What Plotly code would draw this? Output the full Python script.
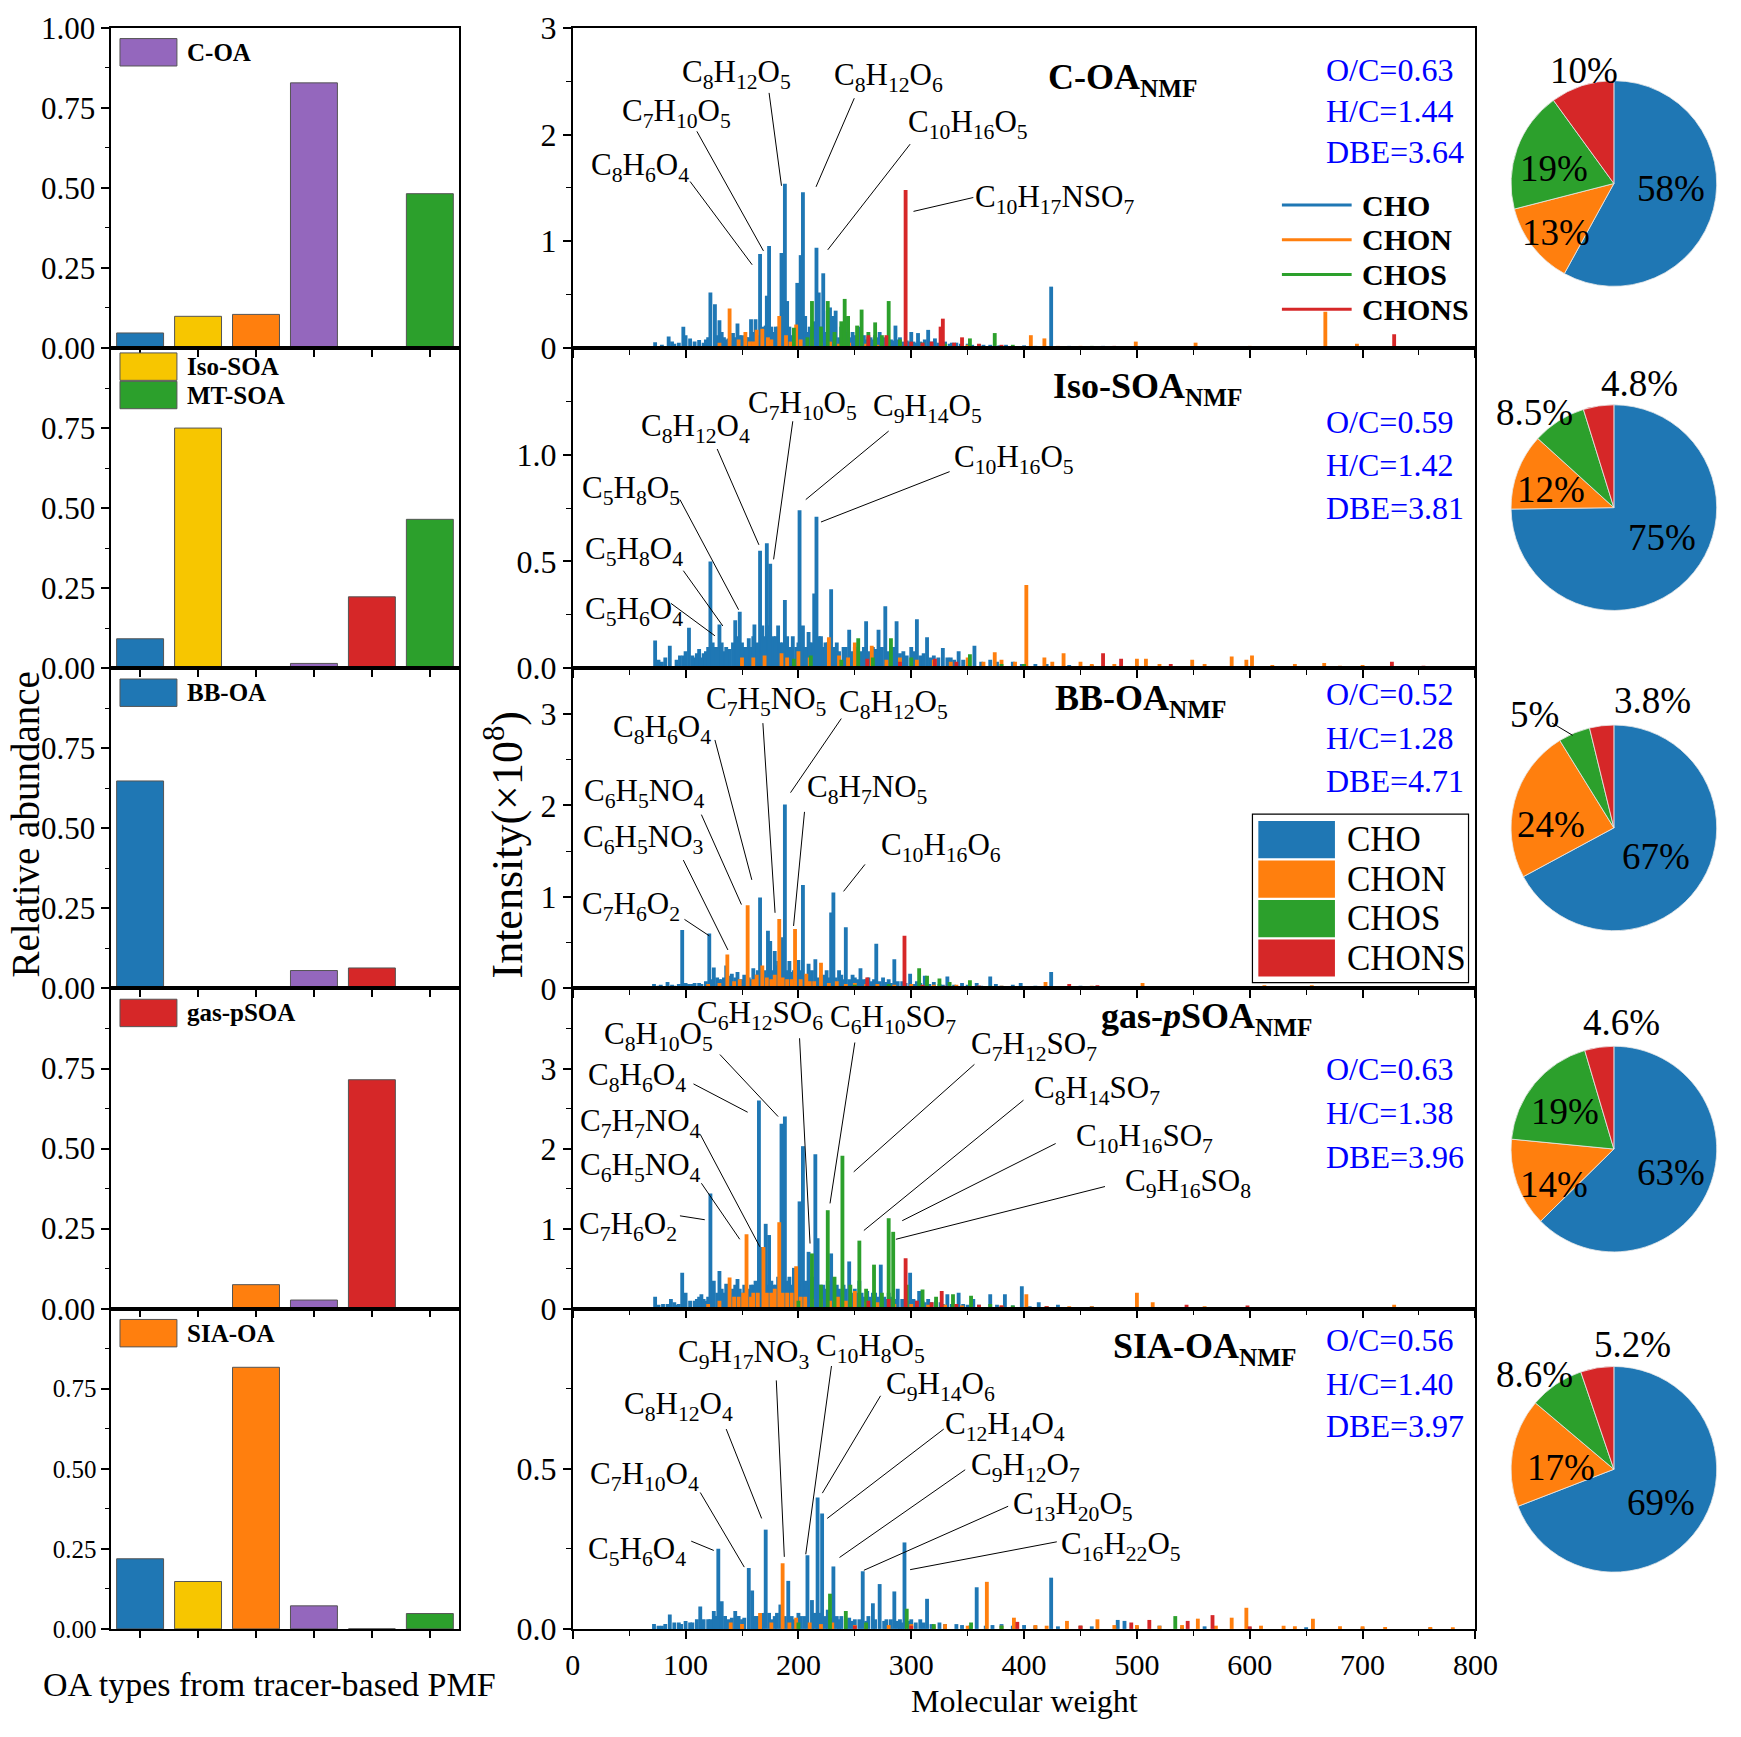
import re
import plotly.graph_objects as go

W, H = 1741, 1737
SERIF = "Liberation Serif"

# ---------------- data ----------------
OA_TYPES = ["BB-OA", "Iso-SOA", "SIA-OA", "C-OA", "gas-pSOA", "MT-SOA"]
OA_COLORS = ["#1f77b4", "#f7c600", "#ff7f0e", "#9467bd", "#d62728", "#2ca02c"]

# relative abundance of each tracer-based OA type in each NMF factor
ABUND_C_OA = [0.047, 0.099, 0.105, 0.828, 0.0, 0.482]
ABUND_ISO_SOA = [0.092, 0.75, 0.0, 0.015, 0.223, 0.465]
ABUND_BB_OA = [0.648, 0.0, 0.0, 0.056, 0.064, 0.0]
ABUND_GAS_PSOA = [0.0, 0.0, 0.075, 0.027, 0.715, 0.0]
ABUND_SIA_OA = [0.219, 0.148, 0.817, 0.072, 0.0, 0.048]

CLASSES = ["CHO", "CHON", "CHOS", "CHONS"]
CLASS_COLORS = ["#1f77b4", "#ff7f0e", "#2ca02c", "#d62728"]

# mass spectra: (molecular weight, intensity x1e8)
COA_CHO = [(73, .055), (79, .03), (85, .107), (88, .06), (98, .2), (100, .12), (104, .09), (112, .076),
           (116, .05), (122, .52), (126, .41), (130, .26), (132, .15), (136, .08), (142, .14), (144, .1),
           (146, .23), (150, .12), (154, .1), (158, .27), (160, .15), (162, .27), (166, .88), (168, .2),
           (171, .21), (172, .49), (174, .955), (176, .2), (180, .2), (184, .3), (185, .89), (188, 1.54),
           (190, .44), (192, .2), (196, .15), (199, .61), (202, .87), (204, 1.46), (206, .3), (210, .2),
           (214, .25), (216, .94), (218, .52), (222, .70), (226, .35), (228, .38), (230, .3), (233, .35),
           (238, .2), (244, .29), (248, .15), (254, .2), (258, .12), (262, .1), (268, .12), (272, .15),
           (276, .1), (282, .08), (286, .21), (290, .1), (300, .15), (306, .14), (312, .08), (315, .17),
           (321, .09), (330, .06), (340, .05), (350, .04), (360, .035), (370, .03), (384, .03), (400, .025),
           (424, .575), (440, .02), (470, .02), (520, .015), (580, .015),
           (90, .04), (94, .05), (108, .06), (118, .08), (120, .1), (128, .12), (134, .1), (138, .09),
           (140, .07), (148, .12), (152, .08), (156, .1), (164, .12), (170, .15), (178, .15), (182, .2),
           (186, .2), (194, .12), (198, .18), (208, .15), (212, .12), (220, .2), (224, .15), (232, .12),
           (236, .1), (240, .12), (242, .15), (246, .1), (250, .12), (256, .1), (260, .08), (264, .1),
           (266, .08), (270, .1), (274, .08), (278, .09), (280, .06), (284, .07), (288, .08), (292, .06),
           (296, .07), (298, .06), (302, .06), (304, .05), (308, .06), (310, .05), (318, .06), (324, .05),
           (326, .04), (334, .04), (336, .05), (344, .04), (354, .03), (364, .03), (378, .025), (390, .02),
           (410, .02), (430, .015), (450, .015), (490, .012), (540, .01), (600, .01), (650, .008),
           (700, .008), (760, .006)]
COA_CHON = [(139, .37), (147, .08), (153, .15), (157, .06), (163, .17), (168, .18), (173, .1), (183, .30),
            (189, .12), (198, .22), (212, .08), (228, .06), (245, .05), (260, .04), (290, .04), (310, .03),
            (350, .03), (406, .12), (418, .09), (450, .02), (499, .06), (552, .05), (600, .02), (667, .34),
            (695, .04), (750, .015),
            (130, .05), (160, .06), (176, .08), (193, .06), (202, .08), (220, .05), (236, .04), (270, .03),
            (330, .03), (380, .02), (430, .02), (470, .015), (520, .015), (580, .012), (630, .01),
            (720, .01), (780, .008)]
COA_CHOS = [(196, .19), (208, .1), (212, .44), (220, .2), (226, .44), (232, .15), (238, .25), (241, .46),
            (244, .30), (252, .21), (256, .36), (262, .15), (268, .24), (274, .12), (280, .44), (290, .08),
            (310, .05), (330, .04), (352, .09), (374, .14), (390, .03), (460, .02)]
COA_CHONS = [(262, .12), (278, .12), (295, 1.48), (300, .06), (310, .05), (318, .06), (326, .2), (328, .275),
             (338, .05), (345, .1), (360, .04), (380, .03), (480, .02), (728, .13)]

ISO_CHO = [(73, .13), (79, .03), (86, .105), (92, .04), (98, .06), (103, .19), (108, .05), (112, .09),
           (116, .07), (122, .50), (126, .1), (130, .205), (134, .08), (139, .09), (144, .225), (148, .265),
           (152, .1), (156, .14), (158, .1), (161, .205), (166, .55), (168, .2), (172, .585), (175, .49),
           (178, .15), (182, .2), (184, .12), (188, .32), (190, .15), (195, .15), (198, .1), (201, .74),
           (204, .2), (209, .17), (212, .12), (214, .35), (216, .71), (220, .15), (226, .12), (229, .37),
           (234, .12), (240, .1), (245, .18), (250, .1), (255, .08), (260, .22), (266, .1), (271, .18),
           (277, .29), (282, .1), (287, .22), (293, .08), (300, .1), (305, .23), (314, .145), (320, .06),
           (328, .095), (335, .05), (342, .08), (356, .105), (370, .04), (390, .03), (420, .02), (460, .015),
           (76, .04), (82, .05), (95, .06), (100, .08), (106, .06), (110, .07), (114, .05), (118, .08),
           (120, .1), (124, .12), (128, .1), (132, .12), (136, .1), (142, .12), (146, .15), (150, .12),
           (154, .1), (160, .15), (164, .12), (170, .15), (174, .2), (180, .15), (186, .12), (192, .1),
           (200, .12), (206, .1), (210, .12), (218, .15), (222, .1), (224, .12), (231, .1), (236, .08),
           (242, .1), (248, .08), (252, .09), (258, .1), (262, .08), (268, .09), (274, .1), (280, .08),
           (285, .1), (290, .07), (296, .06), (302, .08), (308, .06), (311, .07), (317, .05), (324, .05),
           (332, .05), (338, .04), (346, .04), (350, .04), (362, .03), (376, .03), (398, .02), (410, .02),
           (440, .015), (480, .01), (520, .01), (580, .008), (640, .008), (720, .006)]
ISO_CHON = [(150, .05), (170, .06), (185, .07), (200, .08), (227, .145), (236, .06), (250, .12), (265, .105),
            (290, .05), (320, .04), (350, .05), (374, .075), (380, .04), (402, .39), (418, .05), (435, .07),
            (450, .03), (500, .045), (508, .045), (549, .04), (584, .055), (597, .04), (602, .06), (640, .02),
            (666, .025), (700, .015),
            (160, .05), (190, .05), (210, .05), (244, .05), (278, .04), (305, .04), (335, .03), (364, .03),
            (392, .03), (425, .03), (460, .02), (480, .02), (520, .02), (560, .02), (620, .015), (680, .012),
            (740, .01), (780, .008)]
ISO_CHOS = [(196, .045), (211, .06), (238, .04), (253, .14), (266, .05), (282, .14), (300, .05), (352, .065),
            (380, .02), (400, .02)]
ISO_CHONS = [(261, .045), (290, .03), (321, .045), (340, .03), (470, .07), (486, .045), (530, .02), (726, .03),
             (754, .012)]

BB_CHO = [(72, .05), (78, .04), (84, .07), (90, .03), (97, .64), (103, .05), (108, .06), (114, .05),
          (121, .60), (125, .23), (130, .1), (136, .25), (141, .16), (146, .18), (150, .1), (156, .12),
          (160, .22), (166, .995), (170, .2), (173, .63), (175, .52), (179, .41), (182, .3), (185, .56),
          (188, 2.01), (192, .3), (196, .2), (200, .31), (204, 1.13), (209, .27), (212, .2), (215, .32),
          (220, .15), (225, .2), (229, .83), (231, 1.05), (236, .2), (242, .67), (248, .15), (255, .22),
          (262, .12), (269, .49), (275, .12), (280, .1), (285, .32), (292, .08), (299, .16), (305, .08),
          (312, .14), (320, .07), (332, .13), (345, .06), (358, .06), (370, .13), (375, .05), (390, .04),
          (397, .06), (410, .03), (424, .18), (450, .03), (500, .02), (560, .015),
          (76, .03), (88, .04), (94, .05), (100, .06), (106, .05), (112, .06), (118, .08), (124, .1),
          (128, .12), (132, .1), (134, .12), (138, .14), (144, .12), (148, .1), (152, .15), (154, .12),
          (158, .1), (162, .15), (164, .2), (168, .15), (177, .2), (181, .25), (184, .2), (190, .2),
          (194, .18), (198, .15), (202, .2), (206, .15), (211, .15), (217, .12), (222, .15), (227, .12),
          (233, .12), (238, .15), (240, .1), (245, .1), (250, .12), (252, .1), (258, .1), (260, .1),
          (265, .08), (267, .1), (272, .08), (278, .07), (282, .06), (288, .08), (295, .06), (302, .05),
          (308, .06), (316, .05), (325, .05), (328, .04), (338, .04), (350, .04), (362, .03), (380, .03),
          (400, .02), (415, .02), (440, .02), (470, .015), (520, .01), (600, .01), (680, .008), (750, .006)]
BB_CHON = [(120, .05), (137, .37), (148, .1), (155, .91), (163, .15), (168, .25), (176, .1), (183, .76),
           (190, .1), (197, .65), (207, .16), (214, .08), (220, .28), (234, .08), (250, .06), (270, .05),
           (300, .05), (340, .04), (380, .03), (419, .07), (460, .03), (505, .06), (550, .02), (613, .036),
           (655, .036), (700, .015),
           (130, .06), (143, .08), (160, .1), (172, .12), (179, .15), (186, .12), (194, .1), (202, .1),
           (210, .08), (227, .06), (242, .05), (260, .05), (285, .04), (320, .04), (360, .03), (400, .025),
           (440, .02), (480, .02), (530, .015), (580, .015), (640, .012), (680, .01), (740, .01), (780, .008)]
BB_CHOS = [(250, .04), (280, .05), (307, .22), (314, .14), (325, .11), (334, .07), (352, .09), (370, .03),
           (400, .02)]
BB_CHONS = [(261, .12), (294, .575), (310, .04), (330, .03), (360, .03), (440, .05), (465, .035), (520, .02),
            (568, .025), (620, .015)]

GAS_CHO = [(73, .15), (80, .06), (87, .12), (92, .05), (97, .45), (100, .20), (108, .1), (114, .18),
           (118, .1), (122, 1.44), (125, .35), (130, .47), (136, .31), (140, .2), (146, .37), (150, .2),
           (156, .25), (160, .3), (165, 2.60), (167, .77), (171, 1.06), (174, .92), (178, .3), (182, .4),
           (185, 2.31), (188, 2.40), (192, .4), (196, .51), (201, 1.34), (204, 2.03), (209, .71), (212, .4),
           (215, 1.93), (217, .88), (222, .3), (226, .35), (229, .69), (234, .3), (240, .3), (245, .59),
           (250, .25), (254, .35), (261, .22), (266, .2), (273, .55), (280, .2), (288, .25), (299, .45),
           (307, .22), (315, .12), (322, .1), (332, .18), (342, .2), (355, .12), (370, .18), (383, .18),
           (398, .28), (413, .08), (430, .05), (460, .03), (500, .02),
           (76, .05), (84, .06), (90, .08), (94, .06), (104, .1), (110, .12), (112, .15), (116, .12),
           (120, .15), (128, .2), (132, .25), (134, .2), (138, .3), (142, .25), (144, .3), (148, .25),
           (152, .3), (154, .2), (158, .3), (162, .35), (163, .3), (169, .4), (172, .3), (176, .35),
           (180, .3), (190, .35), (194, .3), (198, .35), (200, .3), (206, .35), (207, .3), (211, .3),
           (214, .25), (219, .3), (224, .25), (228, .3), (231, .25), (236, .25), (238, .2), (242, .25),
           (248, .2), (252, .2), (256, .2), (258, .15), (263, .15), (268, .2), (270, .15), (276, .15),
           (278, .12), (283, .15), (286, .12), (292, .12), (296, .1), (302, .12), (304, .1), (310, .1),
           (312, .08), (318, .08), (326, .08), (328, .06), (336, .06), (346, .06), (350, .05), (360, .05),
           (376, .05), (390, .04), (405, .03), (420, .03), (445, .02), (480, .02), (520, .015), (580, .01),
           (650, .01), (720, .008)]
GAS_CHON = [(120, .06), (139, .39), (147, .15), (154, .93), (160, .2), (169, .77), (176, .2), (183, 1.08),
            (190, .2), (198, .53), (206, .15), (220, .12), (235, .15), (250, .22), (270, .08), (300, .06),
            (330, .05), (360, .04), (402, .18), (440, .03), (500, .20), (514, .08), (560, .03), (620, .02),
            (728, .05),
            (130, .1), (143, .15), (151, .2), (158, .15), (164, .2), (172, .2), (179, .25), (186, .2),
            (194, .2), (202, .15), (212, .12), (228, .1), (242, .1), (260, .08), (285, .06), (315, .05),
            (345, .04), (380, .04), (420, .03), (460, .03), (540, .02), (600, .02), (660, .015), (700, .012),
            (760, .01)]
GAS_CHOS = [(200, .1), (212, .69), (220, .3), (226, 1.23), (232, .4), (239, 1.91), (246, .3), (254, .85),
            (260, .25), (267, .55), (274, .2), (280, 1.13), (284, .96), (296, .3), (310, .24), (322, .15),
            (337, .18), (353, .16), (370, .06), (390, .04)]
GAS_CHONS = [(262, .1), (280, .12), (295, .63), (305, .1), (318, .08), (327, .22), (340, .06), (360, .05),
             (380, .04), (420, .03), (544, .05), (598, .04)]

SIA_CHO = [(72, .015), (79, .01), (86, .045), (94, .02), (100, .025), (106, .02), (113, .07), (120, .03),
           (125, .056), (129, .25), (132, .086), (138, .03), (144, .056), (150, .03), (156, .19), (159, .12),
           (164, .04), (171, .31), (176, .03), (184, .076), (191, .15), (196, .03), (202, .04), (208, .23),
           (212, .09), (217, .41), (221, .36), (226, .06), (231, .195), (238, .04), (245, .035), (250, .03),
           (257, .18), (262, .04), (266, .08), (272, .14), (278, .03), (285, .117), (290, .03), (294, .27),
           (300, .03), (308, .03), (314, .094), (325, .02), (340, .015), (358, .13), (380, .015), (400, .012),
           (424, .16), (450, .01), (483, .028), (489, .025), (520, .01), (560, .008),
           (76, .01), (82, .015), (90, .02), (96, .015), (104, .02), (110, .03), (116, .03), (122, .03),
           (127, .04), (135, .04), (141, .035), (147, .04), (152, .035), (162, .04), (168, .05), (174, .05),
           (179, .04), (181, .05), (188, .04), (194, .04), (200, .05), (205, .04), (214, .05), (219, .05),
           (224, .04), (228, .035), (234, .04), (236, .03), (242, .03), (248, .025), (254, .03), (260, .025),
           (268, .03), (276, .025), (282, .03), (288, .025), (292, .02), (298, .025), (304, .02), (311, .02),
           (318, .015), (330, .015), (345, .012), (352, .01), (366, .01), (372, .012), (390, .01), (410, .01),
           (430, .008), (460, .008), (500, .008), (540, .006), (600, .005), (650, .005), (700, .004),
           (760, .004)]
SIA_CHON = [(140, .02), (166, .05), (186, .205), (198, .035), (210, .02), (230, .02), (260, .015), (300, .015),
            (330, .015), (367, .147), (391, .035), (410, .012), (438, .025), (465, .03), (500, .012), (554, .032),
            (584, .035), (597, .066), (630, .01), (656, .032), (700, .008), (760, .006),
            (150, .015), (176, .02), (192, .02), (220, .015), (250, .012), (280, .012), (320, .01), (350, .01),
            (380, .01), (420, .01), (450, .01), (480, .012), (520, .01), (540, .012), (570, .01), (610, .01),
            (640, .008), (680, .008), (720, .006), (780, .005)]
SIA_CHOS = [(200, .02), (228, .11), (242, .056), (260, .02), (296, .063), (320, .015), (353, .02), (380, .01),
            (534, .04)]
SIA_CHONS = [(250, .01), (300, .01), (394, .022), (450, .01), (495, .02), (511, .028), (545, .025), (567, .043),
             (600, .008)]

# percentage of CHO, CHON, CHOS, CHONS
PIE_C_OA = [58, 13, 19, 10]
PIE_ISO_SOA = [75, 12, 8.5, 4.8]
PIE_BB_OA = [67, 24, 5, 3.8]
PIE_GAS_PSOA = [63, 14, 19, 4.6]
PIE_SIA_OA = [69, 17, 8.6, 5.2]

FACTOR_NAMES = ["C-OA", "Iso-SOA", "BB-OA", "gas-<i>p</i>SOA", "SIA-OA"]
OC_RATIO = [0.63, 0.59, 0.52, 0.63, 0.56]
HC_RATIO = [1.44, 1.42, 1.28, 1.38, 1.40]
DBE = [3.64, 3.81, 4.71, 3.96, 3.97]

BAR_PANELS = [ABUND_C_OA, ABUND_ISO_SOA, ABUND_BB_OA, ABUND_GAS_PSOA, ABUND_SIA_OA]
BAR_LEGENDS = [["C-OA"], ["Iso-SOA", "MT-SOA"], ["BB-OA"], ["gas-pSOA"], ["SIA-OA"]]
SPECTRA = [[COA_CHO, COA_CHON, COA_CHOS, COA_CHONS],
           [ISO_CHO, ISO_CHON, ISO_CHOS, ISO_CHONS],
           [BB_CHO, BB_CHON, BB_CHOS, BB_CHONS],
           [GAS_CHO, GAS_CHON, GAS_CHOS, GAS_CHONS],
           [SIA_CHO, SIA_CHON, SIA_CHOS, SIA_CHONS]]
PIES = [PIE_C_OA, PIE_ISO_SOA, PIE_BB_OA, PIE_GAS_PSOA, PIE_SIA_OA]

# ---------------- layout helpers ----------------
# peak labels: formula, text x, text y, leader start x, y, leader end x, y
PEAK_LABELS = [
    [("C8H6O4", 60, 1.70, 104, 1.56, 159, 0.78),
     ("C7H10O5", 92, 2.2, 110, 2.03, 169, 0.91),
     ("C8H12O5", 145, 2.57, 174, 2.39, 185, 1.52),
     ("C8H12O6", 280, 2.54, 249.5, 2.34, 215.6, 1.51),
     ("C10H16O5", 350, 2.1, 299, 1.91, 226, 0.92),
     ("C10H17NSO7", 427, 1.40, 355, 1.41, 302, 1.28)],
    [("C5H6O4", 54, 0.266, 87, 0.304, 126, 0.152),
     ("C5H8O4", 54, 0.548, 98, 0.457, 133, 0.198),
     ("C5H8O5", 52, 0.837, 95, 0.79, 147, 0.274),
     ("C8H12O4", 109, 1.123, 128, 1.027, 165, 0.578),
     ("C7H10O5", 204, 1.233, 195, 1.157, 178, 0.51),
     ("C9H14O5", 314, 1.218, 280, 1.111, 206.5, 0.79),
     ("C10H16O5", 391, 0.982, 334, 0.921, 220, 0.685)],
    [("C7H6O2", 52, 0.90, 99, 0.755, 121, 0.575),
     ("C6H5NO3", 62.5, 1.637, 98, 1.403, 137.5, 0.421),
     ("C6H5NO4", 64, 2.14, 114, 1.9, 149.5, 0.917),
     ("C8H6O4", 79, 2.84, 126, 2.716, 158.7, 1.187),
     ("C7H5NO5", 171, 3.147, 168.5, 2.90, 179.3, 0.827),
     ("C8H12O5", 284, 3.11, 238, 2.95, 193, 2.14),
     ("C8H7NO5", 261, 2.176, 205.4, 1.93, 195.7, 0.683),
     ("C10H16O6", 326, 1.547, 259, 1.356, 240, 1.061)],
    [("C7H6O2", 49, 1.038, 95, 1.16, 117, 1.111),
     ("C6H5NO4", 60, 1.77, 114, 1.567, 148, 0.867),
     ("C7H7NO4", 60, 2.32, 113, 2.177, 165.8, 0.773),
     ("C8H6O4", 57, 2.89, 107, 2.808, 155, 2.454),
     ("C8H10O5", 76, 3.40, 130.4, 3.175, 182, 2.40),
     ("C6H12SO6", 166, 3.663, 201, 3.378, 210.3, 0.814),
     ("C6H10SO7", 284, 3.622, 250, 3.325, 228, 1.315),
     ("C7H12SO7", 409, 3.276, 356, 3.052, 249, 1.709),
     ("C8H14SO7", 465, 2.727, 399.5, 2.605, 258, 0.977),
     ("C10H16SO7", 506.5, 2.137, 428, 2.063, 292, 1.099),
     ("C9H16SO8", 545, 1.567, 471.7, 1.526, 286.4, 0.867)],
    [("C5H6O4", 57, 0.243, 105, 0.274, 125, 0.245),
     ("C7H10O4", 64, 0.477, 113, 0.426, 152, 0.193),
     ("C8H12O4", 93.5, 0.695, 136, 0.624, 167.4, 0.345),
     ("C9H17NO3", 151, 0.857, 180.4, 0.776, 187.5, 0.225),
     ("C10H8O5", 263.6, 0.877, 229.3, 0.821, 206.5, 0.233),
     ("C9H14O6", 326, 0.76, 272.8, 0.728, 221.2, 0.424),
     ("C12H14O4", 383, 0.634, 328.8, 0.624, 225.5, 0.345),
     ("C9H12O7", 401, 0.507, 347.8, 0.497, 236.4, 0.223),
     ("C13H20O5", 443, 0.385, 385.9, 0.383, 258, 0.183),
     ("C16H22O5", 486, 0.259, 429, 0.272, 299, 0.185)],
]
TITLE_POS = [(487, 2.52), (509, 1.31), (503, 3.15), (562, 3.62), (560, 0.875)]
STATS_X = 666
STATS_Y = [(2.6, 2.22, 1.84), (1.155, 0.954, 0.75), (3.215, 2.74, 2.27), (2.99, 2.45, 1.90),
           (0.902, 0.765, 0.633)]

Y_RANGES = [3.0, 1.5, 3.5, 4, 1.0]
Y_TICKS = [[0, 1, 2, 3], [0, 0.5, 1.0], [0, 1, 2, 3], [0, 1, 2, 3], [0, 0.5]]
Y_MINOR = [[0.5, 1.5, 2.5], [0.25, 0.75, 1.25], [0.5, 1.5, 2.5], [0.5, 1.5, 2.5, 3.5], [0.25, 0.75]]
Y_FMT = ["d", ".1f", "d", "d", ".1f"]

PANEL_TOP = [10, 337, 664, 991, 1318]
PANEL_BOT = [337, 664, 991, 1318, 1645]
PIE_CX, PIE_R = 1635, 105
PIE_CY = [169, 500, 827, 1155, 1482]
# label offsets (right, up) in units of pie radius
PIE_LABEL_POS = [
    [(0.55, -0.05), (-0.56, -0.48), (-0.58, 0.15), (-0.29, 1.10)],
    [(0.47, -0.29), (-0.61, 0.18), (-0.77, 0.93), (0.25, 1.21)],
    [(0.41, -0.28), (-0.61, 0.03), (-0.77, 1.10), (0.37, 1.24)],
    [(0.55, -0.23), (-0.58, -0.34), (-0.47, 0.37), (0.07, 1.23)],
    [(0.46, -0.32), (-0.51, 0.02), (-0.77, 0.92), (0.18, 1.21)],
]


def chem(s):
    return re.sub(r"(\d+)", r"<sub>\1</sub>", s)


def fx(p):
    return p / W


def fy(p):
    return 1 - p / H


def pct(v):
    return f"{v:g}%"


fig = go.Figure()
layout = dict(width=W, height=H, margin=dict(l=0, r=0, t=0, b=0),
              paper_bgcolor="white", plot_bgcolor="white", showlegend=False,
              barmode="overlay", font=dict(family=SERIF, color="black"))
shapes, annos = [], []
AX = dict(showline=True, mirror=True, linecolor="black", linewidth=1.5, showgrid=False,
          zeroline=False, ticks="outside", tickcolor="black", tickwidth=1.5)

# ---------------- left column: bars ----------------
for i in range(5):
    n = i + 1
    sfx = "" if n == 1 else str(n)
    fig.add_trace(go.Bar(x=list(range(6)), y=BAR_PANELS[i], width=0.81,
                         marker=dict(color=OA_COLORS, line=dict(color="#555555", width=1)),
                         xaxis="x" + sfx, yaxis="y" + sfx, hoverinfo="skip"))
    layout["xaxis" + sfx] = dict(AX, domain=[fx(105), fx(459)], anchor="y" + sfx, range=[-0.5, 5.5],
                                 tickvals=list(range(6)), ticklen=7, showticklabels=False)
    tv = [0, 0.25, 0.5, 0.75, 1.0] if i == 0 else [0, 0.25, 0.5, 0.75]
    layout["yaxis" + sfx] = dict(AX, domain=[fy(PANEL_BOT[i]), fy(PANEL_TOP[i])], anchor="x" + sfx,
                                 range=[0, 1.0], tickvals=tv, tickformat=".2f", ticklen=8,
                                 ticklabeloverflow="allow",
                                 tickfont=dict(size=25 if i == 4 else 31),
                                 minor=dict(tickvals=[0.125, 0.375, 0.625, 0.875], ticks="outside",
                                            ticklen=4, tickwidth=1, tickcolor="black"))
    # in-panel legend
    tops = [PANEL_TOP[i] + 5, PANEL_TOP[i] + 34] if len(BAR_LEGENDS[i]) == 2 else [PANEL_TOP[i] + 11]
    for name, t in zip(BAR_LEGENDS[i], tops):
        col = OA_COLORS[OA_TYPES.index(name)]
        shapes.append(dict(type="rect", xref="paper", yref="paper", x0=fx(114), x1=fx(172),
                           y0=fy(t + 28), y1=fy(t), fillcolor=col, line=dict(color="#555555", width=1)))
        annos.append(dict(xref="paper", yref="paper", x=fx(180), y=fy(t + 14), text=f"<b>{name}</b>",
                          showarrow=False, xanchor="left", yanchor="middle", font=dict(size=25)))

# ---------------- middle column: spectra ----------------
for i in range(5):
    n = i + 6
    xa, ya = f"x{n}", f"y{n}"
    for peaks, cname, col in zip(SPECTRA[i], CLASSES, CLASS_COLORS):
        fig.add_trace(go.Bar(x=[p[0] for p in peaks], y=[p[1] for p in peaks], width=3.4,
                             marker=dict(color=col, line=dict(width=0)), name=cname,
                             xaxis=xa, yaxis=ya, hoverinfo="skip"))
    layout[f"xaxis{n}"] = dict(AX, domain=[fx(575), fx(1494)], anchor=ya, range=[0, 800],
                               tickvals=list(range(0, 801, 100)), ticklen=8,
                               showticklabels=(i == 4), tickfont=dict(size=30),
                               minor=dict(tickvals=list(range(50, 800, 100)), ticks="outside",
                                          ticklen=5, tickwidth=1, tickcolor="black"))
    layout[f"yaxis{n}"] = dict(AX, domain=[fy(PANEL_BOT[i]), fy(PANEL_TOP[i])], anchor=xa,
                               range=[0, Y_RANGES[i]], tickvals=Y_TICKS[i], tickformat=Y_FMT[i],
                               ticklen=8, tickfont=dict(size=32), ticklabeloverflow="allow",
                               minor=dict(tickvals=Y_MINOR[i], ticks="outside", ticklen=5, tickwidth=1,
                                          tickcolor="black"))
    for f, tx, ty, x0, y0, x1, y1 in PEAK_LABELS[i]:
        annos.append(dict(xref=xa, yref=ya, x=tx, y=ty, text=chem(f), showarrow=False,
                          xanchor="center", yanchor="middle", font=dict(size=31)))
        shapes.append(dict(type="line", xref=xa, yref=ya, x0=x0, y0=y0, x1=x1, y1=y1,
                           line=dict(color="black", width=1)))
    tx, ty = TITLE_POS[i]
    annos.append(dict(xref=xa, yref=ya, x=tx, y=ty, text=f"<b>{FACTOR_NAMES[i]}<sub>NMF</sub></b>",
                      showarrow=False, xanchor="center", yanchor="middle", font=dict(size=36)))
    for lab, val, sy in zip(["O/C", "H/C", "DBE"], [OC_RATIO[i], HC_RATIO[i], DBE[i]], STATS_Y[i]):
        annos.append(dict(xref=xa, yref=ya, x=STATS_X, y=sy, text=f"{lab}={val:.2f}", showarrow=False,
                          xanchor="left", yanchor="middle", font=dict(size=32, color="#0000ff")))

# line legend (C-OA panel)
for k, (cname, col) in enumerate(zip(CLASSES, CLASS_COLORS)):
    yy = 191 + 35.5 * k
    shapes.append(dict(type="line", xref="paper", yref="paper", x0=fx(1297), x1=fx(1368),
                       y0=fy(yy), y1=fy(yy), line=dict(color=col, width=3)))
    annos.append(dict(xref="paper", yref="paper", x=fx(1377), y=fy(yy), text=f"<b>{cname}</b>",
                      showarrow=False, xanchor="left", yanchor="middle", font=dict(size=30)))

# box legend (BB-OA panel)
shapes.append(dict(type="rect", xref="paper", yref="paper", x0=fx(1267), x1=fx(1487), y0=fy(985),
                   y1=fy(813), line=dict(color="black", width=1.2), fillcolor="white"))
for k, (cname, col) in enumerate(zip(CLASSES, CLASS_COLORS)):
    t = 820 + 40.3 * k
    shapes.append(dict(type="rect", xref="paper", yref="paper", x0=fx(1273), x1=fx(1351),
                       y0=fy(t + 38), y1=fy(t), fillcolor=col, line=dict(width=0)))
    annos.append(dict(xref="paper", yref="paper", x=fx(1361), y=fy(t + 19), text=cname,
                      showarrow=False, xanchor="left", yanchor="middle", font=dict(size=35)))

# ---------------- right column: pies ----------------
for i in range(5):
    cy = PIE_CY[i]
    fig.add_trace(go.Pie(values=PIES[i], labels=CLASSES, sort=False, direction="clockwise", rotation=0,
                         marker=dict(colors=CLASS_COLORS, line=dict(color="#e8e8e8", width=0.8)),
                         textinfo="none", hoverinfo="skip",
                         domain=dict(x=[fx(PIE_CX - PIE_R), fx(PIE_CX + PIE_R)],
                                     y=[fy(cy + PIE_R), fy(cy - PIE_R)])))
    for v, (dx, dy) in zip(PIES[i], PIE_LABEL_POS[i]):
        annos.append(dict(xref="paper", yref="paper", x=fx(PIE_CX + dx * PIE_R), y=fy(cy - dy * PIE_R),
                          text=pct(v), showarrow=False, xanchor="center", yanchor="middle",
                          font=dict(size=37)))

# leader for the 5% slice of BB-OA pie
shapes.append(dict(type="line", xref="paper", yref="paper",
                   x0=fx(PIE_CX - 0.60 * PIE_R), y0=fy(PIE_CY[2] - 1.02 * PIE_R),
                   x1=fx(PIE_CX - 0.40 * PIE_R), y1=fy(PIE_CY[2] - 0.90 * PIE_R),
                   line=dict(color="black", width=1)))

# ---------------- axis titles ----------------
TITLE = dict(xref="paper", yref="paper", showarrow=False, xanchor="center", yanchor="middle")
annos += [
    dict(TITLE, x=fx(18), y=fy(824), text="Relative abundance", textangle=-90, font=dict(size=39)),
    dict(TITLE, x=fx(505), y=fy(844), text="Intensity(×10<sup>8</sup>)", textangle=-90, font=dict(size=44)),
    dict(TITLE, x=fx(266), y=fy(1702), text="OA types from tracer-based PMF", font=dict(size=34)),
    dict(TITLE, x=fx(1035), y=fy(1719), text="Molecular weight", font=dict(size=32)),
]

layout["shapes"] = shapes
layout["annotations"] = annos
fig.update_layout(**layout)
fig.write_html("out.html", config={"displayModeBar": False},
               post_script="document.body.style.margin='0';")
